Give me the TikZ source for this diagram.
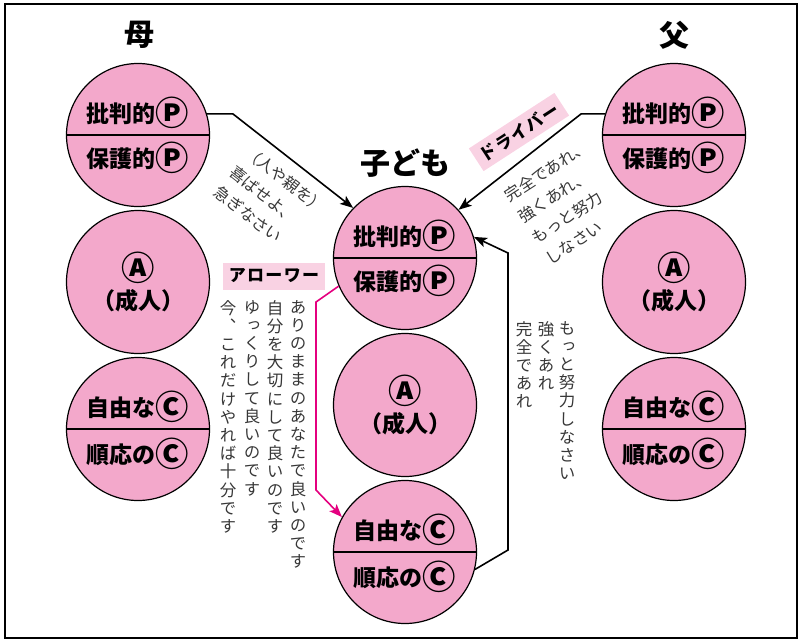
\documentclass[tikz,border=0pt]{standalone}
\usepackage{fontspec}
\usepackage{graphicx}
\setmainfont{Noto Sans CJK JP}
\newfontfamily\tatefont[RawFeature=+vert]{Noto Sans CJK JP}
\newfontfamily\tagfont[LetterSpace=8]{Noto Sans CJK JP}
\usepackage{xcolor}
\usetikzlibrary{arrows.meta}

\definecolor{egopink}{RGB}{243,168,203}
\definecolor{tagpink}{RGB}{249,210,227}
\definecolor{allower}{RGB}{228,0,127}
\definecolor{msggray}{RGB}{55,55,55}

% circled letter at the size of the kanji
\newcommand\maru[1]{\raisebox{-0.13em}{\scalebox{1.45}{#1}}}
% vertical text: one character under the other
\def\tateend{\tateend}
\def\tatenext#1{\ifx#1\tateend\else\hbox to 1em{\hss#1\hss}\expandafter\tatenext\fi}
\newcommand\tate[1]{\vtop{\tatefont\baselineskip=18.2pt\lineskiplimit=-\maxdimen\tatenext#1\tateend}}

\begin{document}
\begin{tikzpicture}[x=1pt, y=-1pt,
        ego/.style = {circle, draw, line width=1.2pt, fill=egopink, minimum size=143pt, inner sep=0pt},
        egoline/.style = {font=\fontsize{23}{31}\selectfont\bfseries, align=center},
        who/.style = {font=\fontsize{30}{30}\selectfont\bfseries},
        tag/.style = {fill=tagpink, inner sep=0pt, minimum width=102pt, minimum height=27pt,
                      font=\tagfont\fontsize{17}{17}\selectfont\bfseries},
        msg/.style = {text=msggray, inner sep=0pt, align=left, font=\fontsize{16}{25}\selectfont},
        tatemsg/.style = {text=msggray, inner sep=0pt, anchor=north, font=\fontsize{16.5}{18.2}\selectfont},
        arr/.style = {line width=1.6pt, -{Stealth[length=13pt, width=10pt, inset=3pt]}}
        ]
        \useasboundingbox (0,0) rectangle (802,640);
        \draw[line width=2.5pt] (5,4) rectangle (797,638);

        \node[who] (mother) at (139,35) {母};
        \node[who] (father) at (674,35) {父};
        \node[who] (child) at (405,163) {子ども};

        \foreach \who/\x/\y in {m/138/135, f/674/135, c/405/258} {
            \node[ego] (\who P) at (\x,\y) {};
            \node[ego] (\who A) at (\x,\y+147) {};
            \node[ego] (\who C) at (\x,\y+294) {};
            \draw[line width=1.2pt] (\who P.west) -- (\who P.east);
            \draw[line width=1.2pt] (\who C.west) -- (\who C.east);
            \node[egoline] (\who P-up) at ([yshift=22pt]\who P.center) {批判的\maru{Ⓟ}};
            \node[egoline] (\who P-dn) at ([yshift=-23pt]\who P.center) {保護的\maru{Ⓟ}};
            \node[egoline] (\who A-txt) at (\who A) {\maru{Ⓐ}\\（成人）};
            \node[egoline] (\who C-up) at ([yshift=22pt]\who C.center) {自由な\maru{Ⓒ}};
            \node[egoline] (\who C-dn) at ([yshift=-25pt]\who C.center) {順応の\maru{Ⓒ}};
        }

        \node[tag, rotate=33] (driver) at (519,132) {ドライバー};
        \node[tag] (allow) at (274,276) {アローワー};

        \node[msg, rotate=-38, anchor=north west] (mmsg) at (252,144) {（人や親を）\\喜ばせよ、\\急ぎなさい};
        \node[msg, rotate=33, anchor=north west] (fmsg) at (502,191) {完全であれ、\\強くあれ、\\もっと努力\\しなさい};

        \node[tatemsg] (al1) at (298,300) {\tate{ありのままのあなたで良いのです}};
        \node[tatemsg] (al2) at (275,300) {\tate{自分を大切にして良いのです}};
        \node[tatemsg] (al3) at (252,300) {\tate{ゆっくりして良いのです}};
        \node[tatemsg] (al4) at (228,300) {\tate{今、これだけやれば十分です}};
        \node[tatemsg] (dr1) at (567,321) {\tate{もっと努力しなさい}};
        \node[tatemsg] (dr2) at (546,321) {\tate{強くあれ}};
        \node[tatemsg] (dr3) at (524,321) {\tate{完全であれ}};

        \draw[arr] (mP.17) -- ++(26,0) -- (cP.136);
        \draw[arr] (fP.163) -- ++(-24,0) -- (cP.42);
        \draw[arr] (cC.-14) -- (508,550) -- (508,253) -- (cP.17);
        \draw[arr, allower] (cP.203) -- (316,302) -- (316,490) -- (cC.151);
\end{tikzpicture}
\end{document}
